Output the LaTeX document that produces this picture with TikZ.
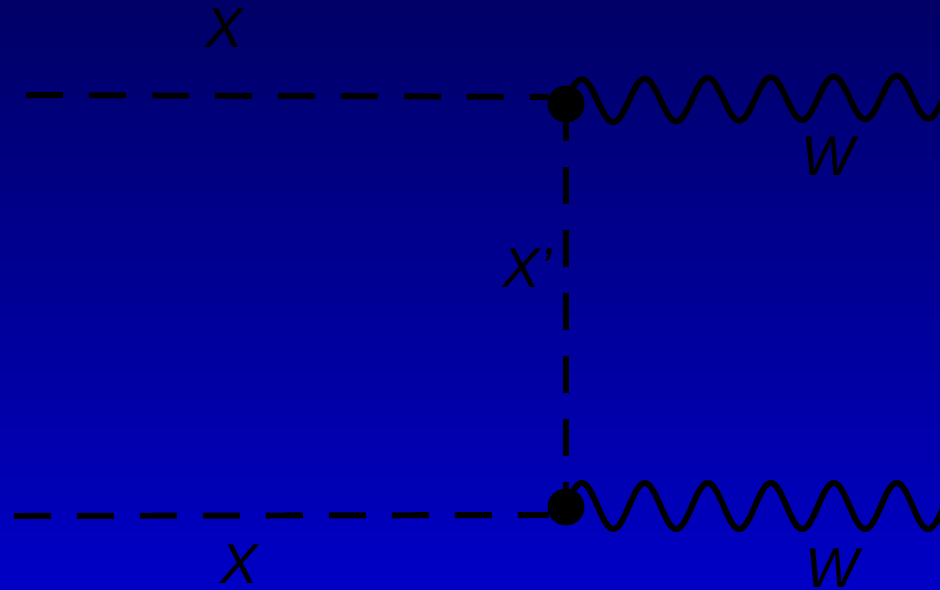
\documentclass[tikz,border=0pt]{standalone}
\usepackage{fontspec}
\setmainfont{Liberation Sans}
\definecolor{bgtop}{RGB}{0,0,102}
\definecolor{bgbot}{RGB}{0,0,198}

\begin{document}
\begin{tikzpicture}[x=0.02cm, y=-0.02cm,
        scalar/.style={line width=3.4pt, dash pattern=on 0.74cm off 0.52cm},
        photon/.style={line width=3.4pt, line join=round},
        vertex/.style={circle, fill=black, inner sep=0pt, minimum size=0.74cm},
        lbl/.style={anchor=base, inner sep=0pt, font=\itshape\fontsize{32}{38}\selectfont}]
        % Background and frame.
            \useasboundingbox (0,0) rectangle (940,589);
            \shade[top color=bgtop, bottom color=bgbot] (0,0) rectangle (940,589);
            \clip (0,0) rectangle (940,589);
        % Vertices and free ends.
            \node[vertex] (v1) at (566,104) {};
            \node[vertex] (v2) at (566,507) {};
            \coordinate (xin1) at (26,95);
            \coordinate (xin2) at (14,516);
        % Lines.
            \draw[scalar] (xin1) -- (v1.158);
            \draw[scalar] (xin2) -- (v2.205);
            \draw[scalar] (v1.center) -- (v2.center);
        % The W lines, sine waves out of the vertices.
            \draw[photon, shift={(v1.center)}] plot[domain=0:384, samples=400]
                (\x, {-3 - 0.011*\x - 21.5*sin(5.7142857*\x)});
            \draw[photon, shift={(v2.center)}] plot[domain=0:384, samples=400]
                (\x, {-1 - 23*sin(5.7142857*\x)});
        % Below nodes are the labels.
            \node[lbl] (lx1) at (224,47) {X};
            \node[lbl] (lxp) at (527,287) {X’};
            \node[lbl] (lw1) at (828,175) {W};
            \node[lbl] (lx2) at (239,583) {X};
            \node[lbl] (lw2) at (832,587) {W};
    \end{tikzpicture}
\end{document}
